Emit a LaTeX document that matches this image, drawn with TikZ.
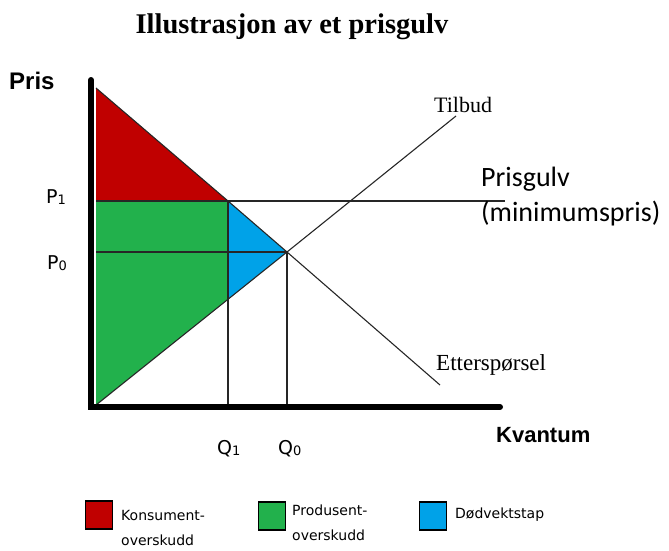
\documentclass[tikz,border=0pt]{standalone}
\usepackage{fontspec}
\setmainfont{Liberation Serif}
\newfontfamily\lsans{Liberation Sans}
\newfontfamily\carl{Carlito}
\newfontfamily\dvs{DejaVu Sans}
\definecolor{kred}{HTML}{C00000}
\definecolor{pgreen}{HTML}{22B14C}
\definecolor{dblue}{HTML}{00A2E8}
\begin{document}
\begin{tikzpicture}[x=1pt,y=-1pt,
  axis/.style={line width=6pt,line cap=round},
  thin/.style={line width=1.1pt,draw=black!85},
  lbl/.style={inner sep=0pt,anchor=west},
  pq/.style={lbl,font=\dvs\fontsize{19}{22}\selectfont},
  legbox/.style={draw=black,line width=1.2pt,minimum width=27pt,minimum height=28pt,inner sep=0pt},
  legtxt/.style={inner sep=0pt,anchor=north west,align=left,font=\dvs\fontsize{14}{25}\selectfont}]
\useasboundingbox (0,0) rectangle (669,550);
% key points
\coordinate (dtop) at (96,88);
\coordinate (a) at (228,201);
\coordinate (e) at (287,252);
\coordinate (b) at (228,299);
\coordinate (p1) at (96,201);
\coordinate (p0) at (96,252);
\coordinate (s0) at (96,405);
\coordinate (q1) at (228,407);
\coordinate (q0) at (287,407);
\coordinate (dend) at (440,385);
\coordinate (send) at (456,116);
\coordinate (floorend) at (505,201);
% areas
\fill[kred] (dtop) -- (a) -- (p1) -- cycle;
\fill[pgreen] (p1) -- (a) -- (b) -- (s0) -- cycle;
\fill[dblue] (a) -- (e) -- (b) -- cycle;
% lines
\draw[thin] (dtop) -- (a) -- (e) -- (dend);
\draw[thin] (s0) -- (e) -- (send);
\draw[thin] (p1) -- (floorend);
\draw[thin] (p0) -- (e);
\draw[thin] (a) -- (q1);
\draw[thin] (e) -- (q0);
% axes
\coordinate (origin) at (91,407);
\coordinate (ytop) at (91,80);
\coordinate (xend) at (500,407);
\draw[axis] (ytop) -- (origin) -- (xend);
% labels
\node[font=\bfseries\fontsize{28.5}{32}\selectfont] (title) at (292,27) {Illustrasjon av et prisgulv};
\node[lbl,font=\lsans\bfseries\fontsize{24}{26}\selectfont] (pris) at (9,81) {Pris};
\node[lbl,font=\lsans\bfseries\fontsize{22}{24}\selectfont] (kv) at (496,435) {Kvantum};
\node[lbl,font=\fontsize{22}{24}\selectfont] (tilbud) at (434,105) {Tilbud};
\node[lbl,font=\fontsize{23}{25}\selectfont] (ett) at (436,365) {Etterspørsel};
\node[anchor=north west,inner sep=0pt,align=left,font=\carl\fontsize{28}{35}\selectfont] (floor) at (481,167) {Prisgulv\\(minimumspris)};
\node[pq] (P1) at (46,197) {P\raisebox{-1pt}{\fontsize{13}{14}\selectfont 1}};
\node[pq] (P0) at (47,263) {P\raisebox{-1pt}{\fontsize{13}{14}\selectfont 0}};
\node[pq] (Q1) at (217,449) {Q\raisebox{-1pt}{\fontsize{13}{14}\selectfont 1}};
\node[pq] (Q0) at (278,449) {Q\raisebox{-1pt}{\fontsize{13}{14}\selectfont 0}};
% legend
\node[legbox,fill=kred] (lk) at (99,515) {};
\node[legbox,fill=pgreen] (lp) at (272,516) {};
\node[legbox,fill=dblue] (ld) at (433,516) {};
\node[legtxt] (tk) at (121,510) {Konsument-\\overskudd};
\node[legtxt] (tp) at (292,505) {Produsent-\\overskudd};
\node[legtxt] (td) at (455,508) {Dødvektstap};
\end{tikzpicture}
\end{document}
